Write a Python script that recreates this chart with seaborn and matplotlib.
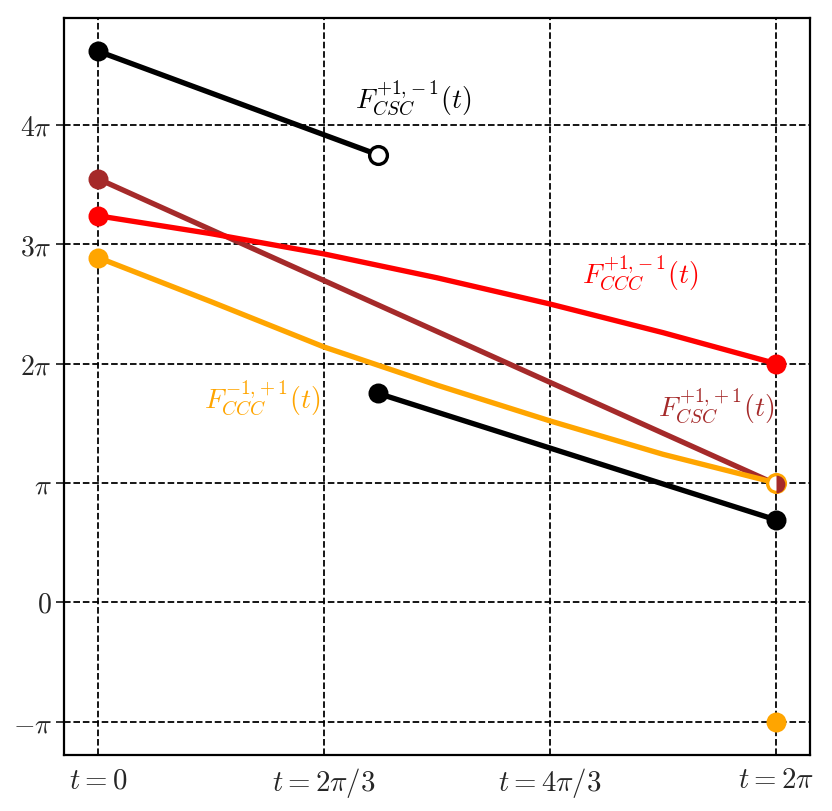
import numpy as np
import matplotlib
matplotlib.use("Agg")
import matplotlib.pyplot as plt
import seaborn as sns

PI = np.pi

# values, in units of pi
t_curve = np.array([0, 1/3, 2/3, 1, 4/3, 5/3, 2]) * PI
red_ccc = np.array([3.24, 3.09, 2.92, 2.72, 2.50, 2.26, 2.00]) * PI
orange_ccc = np.array([2.89, 2.52, 2.14, 1.82, 1.52, 1.24, 1.00]) * PI

t_brown = np.array([0, 2]) * PI
brown_csc = np.array([3.55, 0.99]) * PI

t_black1 = np.array([0, 0.827]) * PI
black_csc1 = np.array([4.62, 3.75]) * PI
t_black2 = np.array([0.827, 2]) * PI
black_csc2 = np.array([1.75, 0.69]) * PI

orange_extra_t = 2 * PI
orange_extra_y = -1 * PI

xticks = [0, 2*PI/3, 4*PI/3, 2*PI]
xlabels = [r"$t=0$", r"$t=2\pi/3$", r"$t=4\pi/3$", r"$t=2\pi$"]
yticks = [-PI, 0, PI, 2*PI, 3*PI, 4*PI]
ylabels = [r"$-\pi$", r"$0$", r"$\pi$", r"$2\pi$", r"$3\pi$", r"$4\pi$"]

RED = "red"
ORANGE = "orange"
BROWN = "brown"
BLACK = "black"

sns.set_style("white")
plt.rcParams["mathtext.fontset"] = "cm"
plt.rcParams["font.family"] = ["DejaVu Serif"]

fig = plt.figure(figsize=(5.2, 5.07), dpi=160)
ax = fig.add_axes([0.077, 0.069, 0.8966, 0.909])

lw = 2.4
ms = 8

sns.lineplot(x=t_black1, y=black_csc1, color=BLACK, lw=lw, ax=ax)
sns.lineplot(x=t_black2, y=black_csc2, color=BLACK, lw=lw, ax=ax)
sns.lineplot(x=t_brown, y=brown_csc, color=BROWN, lw=lw, ax=ax)
sns.lineplot(x=t_curve, y=red_ccc, color=RED, lw=lw, ax=ax)
sns.lineplot(x=t_curve, y=orange_ccc, color=ORANGE, lw=lw, ax=ax)

# end points
ax.plot(t_black1[0], black_csc1[0], "o", color=BLACK, ms=ms)
ax.plot(t_black1[-1], black_csc1[-1], "o", mfc="white", mec=BLACK, mew=1.5, ms=ms)
ax.plot(t_black2[0], black_csc2[0], "o", color=BLACK, ms=ms)
ax.plot(t_black2[-1], black_csc2[-1], "o", color=BLACK, ms=ms)
ax.plot(t_brown[0], brown_csc[0], "o", color=BROWN, ms=ms)
ax.plot(t_curve[0], red_ccc[0], "o", color=RED, ms=ms)
ax.plot(t_curve[-1], red_ccc[-1], "o", color=RED, ms=ms)
ax.plot(t_curve[0], orange_ccc[0], "o", color=ORANGE, ms=ms)
ax.plot(t_curve[-1], orange_ccc[-1], "o", mfc="white", mec=ORANGE, mew=1.5, ms=ms)
ax.plot(t_brown[-1], brown_csc[-1], "o", color=BROWN, fillstyle="right",
        markerfacecoloralt="none", mew=0, ms=ms)
ax.plot(orange_extra_t, orange_extra_y, "o", color=ORANGE, ms=ms)

fs = 12.5
ax.text(0.93*PI, 4.235*PI, r"$F^{+1,\!-1}_{CSC}(t)$", color=BLACK, fontsize=fs, ha="center", va="center")
ax.text(1.60*PI, 2.765*PI, r"$F^{+1,\!-1}_{CCC}(t)$", color=RED, fontsize=fs, ha="center", va="center")
ax.text(0.485*PI, 1.714*PI, r"$F^{-1,\!+1}_{CCC}(t)$", color=ORANGE, fontsize=fs, ha="center", va="center")
ax.text(1.823*PI, 1.647*PI, r"$F^{+1,\!+1}_{CSC}(t)$", color=BROWN, fontsize=fs, ha="center", va="center")

ax.set_xticks(xticks)
ax.set_xticklabels(xlabels, fontsize=13)
ax.set_yticks(yticks)
ax.set_yticklabels(ylabels, fontsize=12.5)
ax.tick_params(axis="x", length=0, pad=5)
ax.tick_params(axis="y", length=3.5, width=0.8, pad=2, left=True)
ax.grid(True, color="black", linestyle="--", linewidth=0.8)
for s in ax.spines.values():
    s.set_color("black")
    s.set_linewidth(1.0)

fig.savefig("out.png", dpi=160)
